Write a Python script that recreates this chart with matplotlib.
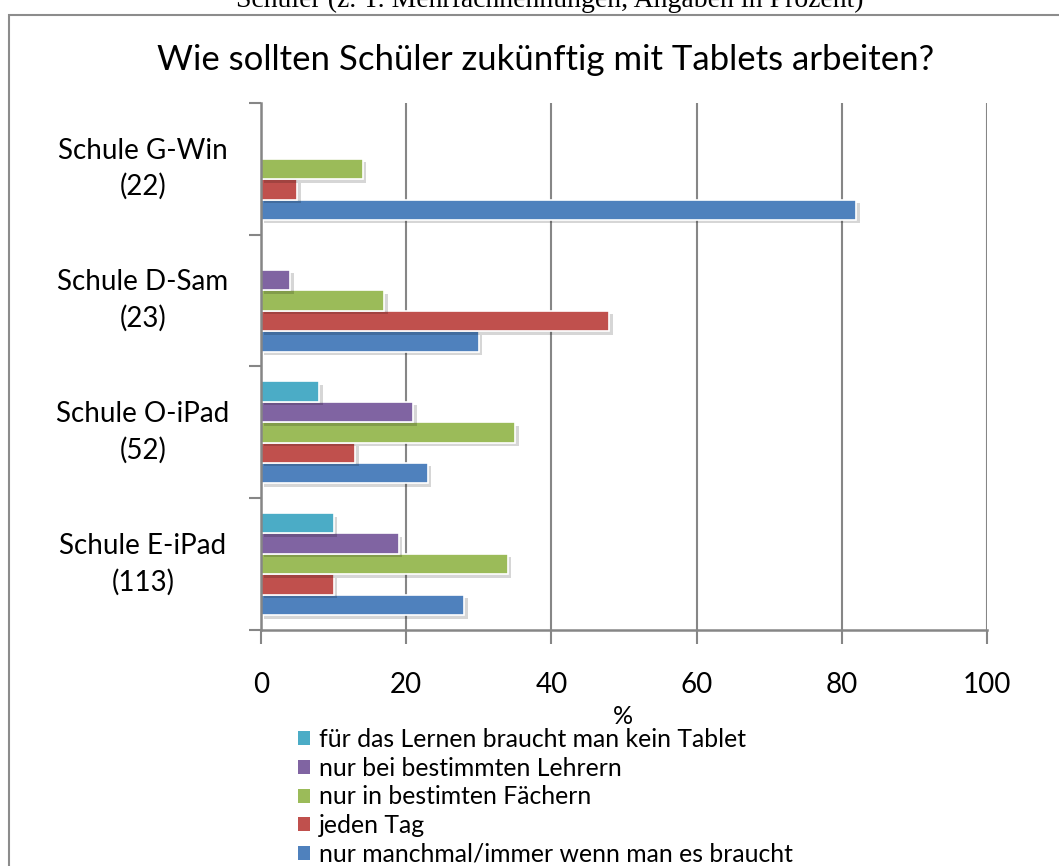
import matplotlib
matplotlib.use("Agg")
import matplotlib.pyplot as plt
import matplotlib.patheffects as pe
import matplotlib.transforms as mtransforms
from matplotlib.patches import Rectangle, Patch
import numpy as np

# ---- data ----
schools = ["Schule E-iPad\n(113)", "Schule O-iPad\n(52)", "Schule D-Sam\n(23)", "Schule G-Win\n(22)"]
series_names = [
    "nur manchmal/immer wenn man es braucht",
    "jeden Tag",
    "nur in bestimten Fächern",
    "nur bei bestimmten Lehrern",
    "für das Lernen braucht man kein Tablet",
]
manchmal = [28, 23, 30, 82]
jeden_tag = [10, 13, 48, 5]
faecher = [34, 35, 17, 14]
lehrern = [19, 21, 4, 0]
kein_tablet = [10, 8, 0, 0]
series_values = [manchmal, jeden_tag, faecher, lehrern, kein_tablet]
colors = ["#4F81BD", "#C0504D", "#9BBB59", "#8064A2", "#4BACC6"]
xticks = [0, 20, 40, 60, 80, 100]

FONT = "Lato"
W, H = 1059, 866
fig = plt.figure(figsize=(W / 100, H / 100), dpi=100)
fig.patch.set_facecolor("white")

ax = fig.add_axes([261 / W, 1 - 630 / H, 726 / W, 527 / H])
grid_c = "#868686"

bar_h = 0.155
y = np.arange(len(schools))
shadow = [pe.SimplePatchShadow(offset=(2.5, -2.5), shadow_rgbFace="black", alpha=0.16), pe.Normal()]
for k, (vals, col) in enumerate(zip(series_values, colors)):
    off = (k - 2) * bar_h
    for yi, v in zip(y, vals):
        if v > 0:
            b = ax.barh(yi + off, v, height=bar_h, color=col, edgecolor="white",
                        linewidth=1.2, zorder=3)
            for p in b.patches:
                p.set_path_effects(shadow)

ax.set_xlim(0, 100)
ax.set_ylim(-0.5, 3.5)
ax.set_xticks(xticks)
ax.set_xticklabels([str(t) for t in xticks], fontsize=20, family=FONT)
ax.set_yticks([-0.5, 0.5, 1.5, 2.5, 3.5])
ax.set_yticklabels([])
ax.tick_params(axis="x", length=10, width=1.5, color=grid_c, pad=20, direction="out")
ax.tick_params(axis="y", length=9, width=1.5, color=grid_c, direction="out")
ax.xaxis.grid(True, color=grid_c, linewidth=1.5, zorder=0)
ax.set_axisbelow(True)
for s in ["top", "right"]:
    ax.spines[s].set_visible(False)
for s in ["left", "bottom"]:
    ax.spines[s].set_color(grid_c)
    ax.spines[s].set_linewidth(1.8)
    ax.spines[s].set_zorder(4)

# category labels
trans = mtransforms.blended_transform_factory(fig.transFigure, ax.transData)
for yi, lab in zip(y, schools):
    ax.text(143 / W, yi, lab, transform=trans, ha="center", va="center",
            fontsize=20, family=FONT, linespacing=1.45, multialignment="center")

# title
fig.text(546 / W, 1 - 60 / H, "Wie sollten Schüler zukünftig mit Tablets arbeiten?",
         ha="center", va="center", fontsize=25, family=FONT)
# cut-off caption at top
fig.text(550 / W, 1 - 7 / H, "Schüler (z. T. Mehrfachnennungen, Angaben in Prozent)",
         ha="center", va="baseline", fontsize=20, family="Liberation Serif")
# x label
fig.text(623 / W, 1 - 717 / H, "%", ha="center", va="center", fontsize=18, family=FONT)

# legend
handles = [Patch(facecolor=c, edgecolor="none") for c in colors[::-1]]
leg = fig.legend(handles, series_names[::-1], loc="upper left",
                 bbox_to_anchor=(298 / W, 1 - 728 / H), frameon=False,
                 prop={"family": FONT, "size": 17.8}, handlelength=0.5, handleheight=0.5,
                 handletextpad=0.35, labelspacing=0.23, borderaxespad=0, borderpad=0)

# outer frame
fig.patches.append(Rectangle((9 / W, -0.2), 2.0, 1.2 - 15 / H, transform=fig.transFigure,
                             fill=False, edgecolor="#8c8c8c", linewidth=1.5))

fig.savefig("out.png", dpi=100)
